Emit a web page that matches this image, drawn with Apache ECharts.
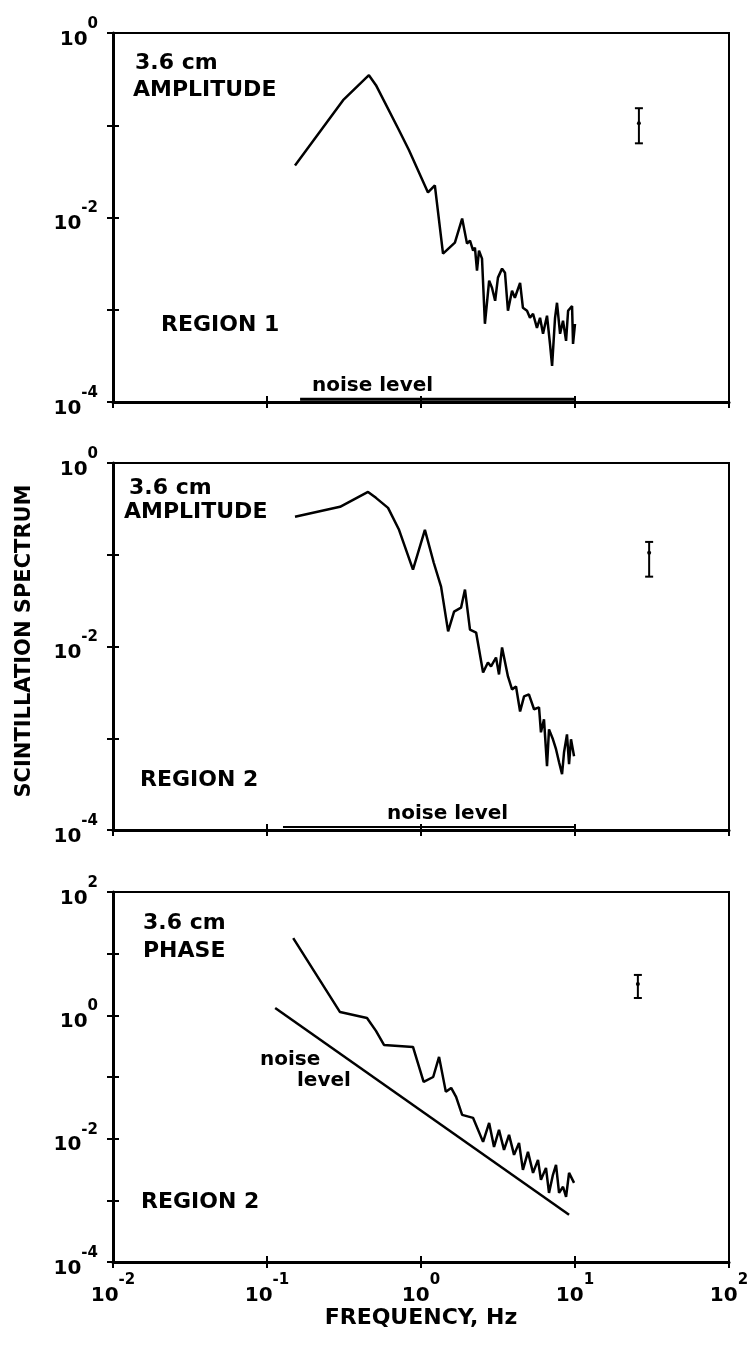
<!DOCTYPE html>
<html>
<head>
<meta charset="utf-8">
<script src="https://cdn.jsdelivr.net/npm/echarts@6/dist/echarts.min.js"></script>
<style>
  html, body { margin: 0; padding: 0; background: #fff; }
  #chart { width: 752px; height: 1348px; }
</style>
</head>
<body>
<div id="chart"></div>
<script>
// region 1, 3.6 cm amplitude spectrum
const region1Freq = [0.152, 0.312, 0.459, 0.51, 0.72, 0.836, 1.11, 1.23, 1.39, 1.66, 1.85, 1.99, 2.08, 2.18, 2.24, 2.31, 2.38, 2.49, 2.6, 2.77, 2.89, 3.03, 3.16, 3.36, 3.51, 3.67, 3.9, 4.07, 4.4, 4.59, 4.88, 5.1, 5.34, 5.66, 5.93, 6.2, 6.58, 6.88, 7.1, 7.42, 7.64, 8.0, 8.36, 8.75, 9.02, 9.57, 9.71, 10.0];
const region1Amp = [0.0367, 0.187, 0.349, 0.272, 0.0883, 0.0535, 0.0187, 0.0223, 0.00406, 0.00535, 0.00975, 0.00521, 0.00562, 0.00438, 0.00472, 0.00265, 0.00438, 0.00358, 0.000705, 0.00207, 0.00173, 0.00125, 0.00223, 0.00279, 0.00252, 0.000975, 0.00161, 0.00135, 0.00196, 0.00105, 0.000975, 0.000818, 0.000905, 0.000637, 0.000818, 0.000548, 0.000861, 0.000427, 0.000246, 0.000818, 0.00119, 0.000548, 0.000759, 0.00046, 0.000975, 0.0011, 0.000427, 0.000705];

// region 2, 3.6 cm amplitude spectrum
const region2Freq = [0.152, 0.298, 0.453, 0.51, 0.611, 0.72, 0.887, 1.06, 1.21, 1.35, 1.5, 1.64, 1.82, 1.93, 2.08, 2.28, 2.53, 2.72, 2.85, 3.07, 3.21, 3.36, 3.67, 3.9, 4.14, 4.4, 4.67, 5.02, 5.42, 5.84, 6.01, 6.29, 6.58, 6.78, 7.19, 7.53, 7.88, 8.24, 8.49, 8.87, 9.15, 9.42, 9.86];
const region2Amp = [0.259, 0.333, 0.484, 0.417, 0.324, 0.187, 0.0687, 0.187, 0.0818, 0.0449, 0.0146, 0.024, 0.0265, 0.0417, 0.0153, 0.0142, 0.00521, 0.0067, 0.00607, 0.00759, 0.00496, 0.00975, 0.00472, 0.00341, 0.00367, 0.00196, 0.00286, 0.00301, 0.00207, 0.00217, 0.00116, 0.00161, 0.000496, 0.00125, 0.000975, 0.000759, 0.000548, 0.000406, 0.000705, 0.0011, 0.000521, 0.000975, 0.000637];

// region 2, 3.6 cm phase spectrum
const phaseFreq = [0.148, 0.298, 0.446, 0.51, 0.575, 0.887, 1.04, 1.2, 1.31, 1.45, 1.57, 1.69, 1.85, 2.18, 2.53, 2.77, 2.98, 3.21, 3.46, 3.73, 4.02, 4.33, 4.59, 4.95, 5.34, 5.75, 6.01, 6.48, 6.78, 7.19, 7.53, 7.88, 8.36, 8.75, 9.15, 9.86];
const phaseVal = [17.9, 1.13, 0.908, 0.559, 0.331, 0.307, 0.0834, 0.1, 0.212, 0.0574, 0.0666, 0.0476, 0.0243, 0.0217, 0.00887, 0.018, 0.00736, 0.0139, 0.00658, 0.0115, 0.00546, 0.00855, 0.00312, 0.00611, 0.00279, 0.00453, 0.00215, 0.00336, 0.00132, 0.00259, 0.00376, 0.00132, 0.00166, 0.00114, 0.00279, 0.00192];

// noise levels
const noise1Freq = [0.164, 10];
const noise1Val = [1.07e-4, 1.07e-4];
const noise2Freq = [0.127, 10];
const noise2Val = [1.08e-4, 1.08e-4];
const noisePhaseFreq = [0.113, 9.15];
const noisePhaseVal = [1.32, 0.000582];

// error bars: [freq, low, high, centre]
const errorBars = [
  [26, 0.0637, 0.153, 0.105],
  [30.3, 0.0577, 0.138, 0.105],
  [25.6, 1.91, 4.52, 3.23]
];

const xRange = [0.01, 100];
const yRanges = [[1e-4, 1], [1e-4, 1], [1e-4, 100]];

const FONT = 'DejaVu Sans';
const zip = (xs, ys) => xs.map((x, i) => [x, ys[i]]);

const supRich = {
  b: { fontSize: 20, fontFamily: FONT, fontWeight: 'bold', color: '#000', padding: [13, 0, 0, 0], verticalAlign: 'bottom' },
  s: { fontSize: 15, fontFamily: FONT, fontWeight: 'bold', color: '#000', verticalAlign: 'top' }
};

function powLabel(v, everyOther) {
  const e = Math.round(Math.log10(v));
  if (everyOther && e % 2 !== 0) return '';
  return '{b|10}{s|' + e + '}';
}

const grids = [
  { left: 113, top: 33, width: 616, height: 369 },
  { left: 113, top: 463, width: 616, height: 367 },
  { left: 113, top: 892, width: 616, height: 370 }
].map(g => Object.assign(g, { show: true, borderColor: '#000', borderWidth: 2 }));

const xAxes = [];
const yAxes = [];
grids.forEach((g, i) => {
  xAxes.push({
    type: 'log', logBase: 10, gridIndex: i, position: 'bottom', min: xRange[0], max: xRange[1],
    axisLine: { lineStyle: { color: '#000', width: 3 } },
    axisTick: { length: 6, lineStyle: { color: '#000', width: 2 } },
    axisLabel: { show: i === 2, margin: 11, formatter: v => powLabel(v, false), rich: supRich },
    splitLine: { show: false }
  });
  xAxes.push({
    type: 'log', logBase: 10, gridIndex: i, position: 'bottom', min: xRange[0], max: xRange[1],
    axisLine: { show: false },
    axisTick: { inside: true, length: 6, lineStyle: { color: '#000', width: 2 } },
    axisLabel: { show: false },
    splitLine: { show: false }
  });
  yAxes.push({
    type: 'log', logBase: 10, gridIndex: i, position: 'left', min: yRanges[i][0], max: yRanges[i][1],
    axisLine: { lineStyle: { color: '#000', width: 3 } },
    axisTick: { length: 6, lineStyle: { color: '#000', width: 2 } },
    axisLabel: { margin: 15, formatter: v => powLabel(v, true), rich: supRich },
    splitLine: { show: false }
  });
  yAxes.push({
    type: 'log', logBase: 10, gridIndex: i, position: 'left', min: yRanges[i][0], max: yRanges[i][1],
    axisLine: { show: false },
    axisTick: { inside: true, length: 6, lineStyle: { color: '#000', width: 2 } },
    axisLabel: { show: false },
    splitLine: { show: false }
  });
});

function lineSeries(g, data, width) {
  return {
    type: 'line', xAxisIndex: 2 * g, yAxisIndex: 2 * g,
    data: data, showSymbol: false, symbol: 'none', silent: true,
    lineStyle: { color: '#000', width: width || 2.5 },
    animation: false
  };
}

function errorSeries(g) {
  return {
    type: 'custom', xAxisIndex: 2 * g, yAxisIndex: 2 * g,
    data: [errorBars[g]], animation: false, silent: true,
    renderItem(params, api) {
      const lo = api.coord([api.value(0), api.value(1)]);
      const hi = api.coord([api.value(0), api.value(2)]);
      const mid = api.coord([api.value(0), api.value(3)]);
      const st = { stroke: '#000', lineWidth: 2 };
      return {
        type: 'group',
        children: [
          { type: 'line', shape: { x1: lo[0], y1: lo[1], x2: hi[0], y2: hi[1] }, style: st },
          { type: 'line', shape: { x1: lo[0] - 4, y1: lo[1], x2: lo[0] + 4, y2: lo[1] }, style: st },
          { type: 'line', shape: { x1: hi[0] - 4, y1: hi[1], x2: hi[0] + 4, y2: hi[1] }, style: st },
          { type: 'circle', shape: { cx: mid[0], cy: mid[1], r: 2 }, style: { fill: '#000' } }
        ]
      };
    }
  };
}

function label(text, x, y, size, extra) {
  return Object.assign({
    type: 'text', x: x, y: y, silent: true,
    style: { text: text, fill: '#000', fontFamily: FONT, fontWeight: 'bold', fontSize: size, verticalAlign: 'middle', align: 'left' }
  }, extra || {});
}

const chart = echarts.init(document.getElementById('chart'));
chart.setOption({
  backgroundColor: '#fff',
  animation: false,
  grid: grids,
  xAxis: xAxes,
  yAxis: yAxes,
  series: [
    lineSeries(0, zip(region1Freq, region1Amp)),
    lineSeries(0, zip(noise1Freq, noise1Val), 3),
    errorSeries(0),
    lineSeries(1, zip(region2Freq, region2Amp)),
    lineSeries(1, zip(noise2Freq, noise2Val), 2),
    errorSeries(1),
    lineSeries(2, zip(phaseFreq, phaseVal)),
    lineSeries(2, zip(noisePhaseFreq, noisePhaseVal)),
    errorSeries(2)
  ],
  graphic: [
    label('3.6 cm', 135, 63, 22),
    label('AMPLITUDE', 133, 90, 22),
    label('REGION 1', 161, 325, 22),
    label('noise level', 312, 386, 20),
    label('3.6 cm', 129, 488, 22),
    label('AMPLITUDE', 124, 512, 22),
    label('REGION 2', 140, 780, 22),
    label('noise level', 387, 814, 20),
    label('3.6 cm', 143, 923, 22),
    label('PHASE', 143, 951, 22),
    label('REGION 2', 141, 1202, 22),
    label('noise', 260, 1060, 20),
    label('level', 297, 1081, 20),
    {
      type: 'text', x: 25, y: 641, rotation: Math.PI / 2, silent: true,
      style: { text: 'SCINTILLATION SPECTRUM', fill: '#000', fontFamily: FONT, fontWeight: 'bold', fontSize: 21, align: 'center', verticalAlign: 'middle' }
    },
    {
      type: 'text', x: 421, y: 1318, silent: true,
      style: { text: 'FREQUENCY, Hz', fill: '#000', fontFamily: FONT, fontWeight: 'bold', fontSize: 22, align: 'center', verticalAlign: 'middle' }
    }
  ]
});
</script>
</body>
</html>
